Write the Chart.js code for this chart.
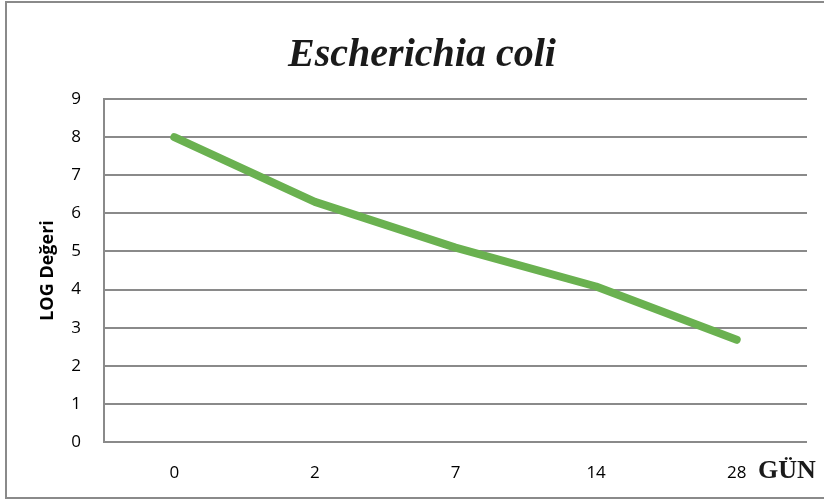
<!DOCTYPE html>
<html>
<head>
<meta charset="utf-8">
<script src="https://cdn.jsdelivr.net/npm/chart.js@4/dist/chart.umd.min.js"></script>
<style>
  html, body { margin: 0; padding: 0; background: #fff; }
  #wrap { width: 824px; height: 501px; position: relative; }
</style>
</head>
<body>
<div id="wrap"><canvas id="myChart" width="824" height="501"></canvas></div>
<script>
// data
const days = ['0', '2', '7', '14', '28'];
const logValues = [8.0, 6.3, 5.1, 4.08, 2.68];
const yTicks = [0, 1, 2, 3, 4, 5, 6, 7, 8, 9];

const gridColor = '#8a8a8a';

// outer frame + "GÜN" label next to the last category
const framePlugin = {
    id: 'frame',
    afterDraw(chart) {
        const c = chart.ctx;
        c.save();
        c.strokeStyle = '#8a8a8a';
        c.lineWidth = 2;
        c.strokeRect(6, 2, 830, 496);
        c.fillStyle = '#1a1a1a';
        c.font = 'bold 26px "Liberation Serif"';
        c.textBaseline = 'middle';
        c.textAlign = 'left';
        c.fillText('GÜN', 758, 471);
        c.restore();
    }
};

const ctx = document.getElementById('myChart').getContext('2d');
const myChart = new Chart(ctx, {
    type: 'line',
    data: {
        labels: days,
        datasets: [{
            label: 'LOG',
            data: logValues,
            borderColor: '#6ab150',
            borderWidth: 8,
            borderCapStyle: 'round',
            borderJoinStyle: 'round',
            pointRadius: 0,
            tension: 0,
            fill: false
        }]
    },
    options: {
        responsive: false,
        animation: false,
        layout: { padding: { left: 37, right: 17, top: 0, bottom: 0 } },
        plugins: {
            legend: { display: false },
            tooltip: { enabled: false },
            title: {
                display: true,
                text: 'Escherichia coli',
                color: '#1a1a1a',
                font: { family: '"Liberation Serif"', size: 40, style: 'italic', weight: 'bold' },
                padding: { top: 32, bottom: 19 }
            }
        },
        scales: {
            x: {
                offset: true,
                grid: { display: false, drawTicks: false },
                border: { display: false },
                ticks: {
                    color: '#000',
                    font: { family: '"Open Sans"', size: 17, weight: 500 },
                    padding: 21,
                    maxRotation: 0
                },
                afterFit(scale) { scale.height = 59; }
            },
            y: {
                min: 0,
                max: 9,
                afterBuildTicks(scale) { scale.ticks = yTicks.map(v => ({ value: v })); },
                grid: { color: gridColor, lineWidth: 2, drawTicks: false },
                border: { display: true, color: gridColor, width: 2 },
                ticks: {
                    color: '#000',
                    font: { family: '"Open Sans"', size: 17, weight: 500 },
                    padding: 23
                },
                title: {
                    display: true,
                    text: 'LOG Değeri',
                    color: '#000',
                    font: { family: '"Open Sans"', size: 18, weight: 'bold' },
                    padding: { top: 0, bottom: 0 }
                },
                afterFit(scale) { scale.width = 67; }
            }
        }
    },
    plugins: [framePlugin]
});
</script>
</body>
</html>
